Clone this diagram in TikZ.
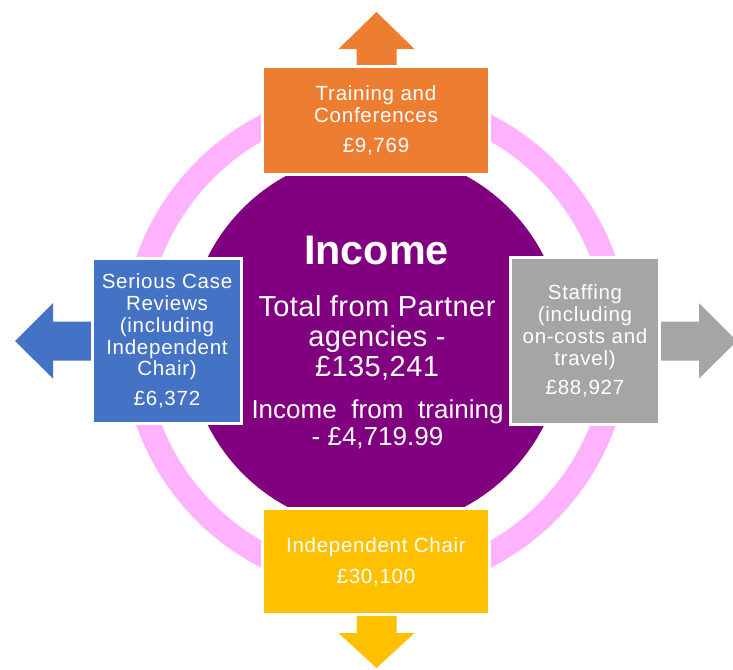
\documentclass[tikz,border=0pt]{standalone}
\usepackage{fontspec}
\setmainfont{Liberation Sans}
\newfontfamily\boxfont[LetterSpace=3.5]{Liberation Sans}
\newfontfamily\midfont[LetterSpace=1.5]{Liberation Sans}
\definecolor{ringpink}{HTML}{FFB3FF}
\definecolor{incpurple}{HTML}{800080}
\definecolor{boxorange}{HTML}{ED7D31}
\definecolor{boxblue}{HTML}{4472C4}
\definecolor{boxgray}{HTML}{A5A5A5}
\definecolor{boxgold}{HTML}{FFC000}
\tikzset{
  budgetbox/.style={rectangle, draw=white, line width=2.25pt, inner sep=0pt,
    outer sep=0pt, align=center, text=white,
    font=\boxfont\fontsize{15.4}{16.4}\selectfont},
  centretext/.style={text=white, inner sep=0pt, anchor=base, align=center}
}
\begin{document}
\begin{tikzpicture}[x=0.75pt,y=-0.75pt]
\useasboundingbox (0,0) rectangle (733,669);
% ring and centre circle
\draw[ringpink, line width=18pt] (376,341) circle[radius=242];
\fill[incpurple] (376,341) circle[radius=188];
% block arrows
\fill[boxorange] (356.5,80) -- (356.5,49) -- (338.5,49) -- (376.5,12) -- (414.5,49) -- (396.5,49) -- (396.5,80) -- cycle;
\fill[boxgold] (356.5,600) -- (356.5,633) -- (338.5,633) -- (376.5,668) -- (414.5,633) -- (396.5,633) -- (396.5,600) -- cycle;
\fill[boxblue] (110,321.5) -- (53,321.5) -- (53,303) -- (15,341) -- (53,378.5) -- (53,360.5) -- (110,360.5) -- cycle;
\fill[boxgray] (640,321.5) -- (699,321.5) -- (699,303) -- (737,341) -- (699,378.5) -- (699,360.5) -- (640,360.5) -- cycle;
% boxes
\node[budgetbox, fill=boxorange, minimum width=170.25pt, minimum height=81pt] (train) at (376,120.5)
  {Training and\\Conferences\\[6pt]£9,769};
\node[budgetbox, fill=boxblue, minimum width=111.75pt, minimum height=123.75pt] (scr) at (167,341)
  {Serious Case\\Reviews\\(including\\Independent\\Chair)\\[6pt]£6,372};
\node[budgetbox, fill=boxgray, minimum width=111.75pt, minimum height=125.25pt] (staff) at (585,341)
  {Staffing\\(including\\on-costs and\\travel)\\[6pt]£88,927};
\node[budgetbox, fill=boxgold, minimum width=170.25pt, minimum height=79.5pt] (chair) at (376,561.5)
  {Independent Chair\\[7pt]£30,100};
% centre text
\node[centretext, font=\fontsize{31}{37}\selectfont\bfseries] (income) at (376.5,264) {Income};
\node[centretext, font=\midfont\fontsize{21.75}{22.5}\selectfont] (partner) at (377,376.7)
  {Total from Partner\\agencies -\\£135,241};
\node[centretext, font=\fontsize{19.5}{20}\selectfont] (fromtraining) at (377.5,445)
  {\makebox[189pt][s]{Income from training}\\- £4,719.99};
\end{tikzpicture}
\end{document}
